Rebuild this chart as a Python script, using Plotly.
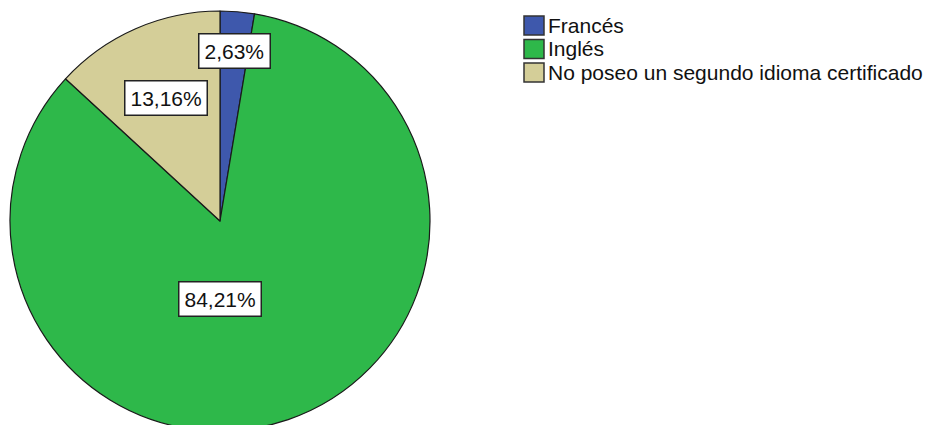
import math
import plotly.graph_objects as go

# ---- data ----
categories = ["Francés", "Inglés", "No poseo un segundo idioma certificado"]
percentages = [2.63, 84.21, 13.16]
colors = ["#3E58AC", "#2EB84A", "#D4CE98"]

# ---- layout constants ----
W, H = 937, 425
OFF = 8                                   # page body margin compensation
CX, CY, R = 220.0 - OFF, 221.0 - OFF, 210.0   # pie centre / radius in px
LABEL_RADIUS = [0.81, 0.37, 0.64]         # label distance as fraction of radius
FONT = "Liberation Sans, Arial, sans-serif"


def px_to_paper(x, y):
    return x / W, 1 - y / H


fig = go.Figure()
fig.add_trace(go.Pie(
    labels=categories,
    values=percentages,
    sort=False,
    direction="clockwise",
    rotation=0,
    marker=dict(colors=colors, line=dict(color="#1a1a1a", width=1.2)),
    textinfo="none",
    hoverinfo="label+percent",
    showlegend=False,
    domain=dict(x=[(CX - R) / W, (CX + R) / W], y=[1 - (CY + R) / H, 1 - (CY - R) / H]),
))

annotations = []
# slice labels, placed along each slice's mid angle
total = sum(percentages)
start = 0.0
for i, v in enumerate(percentages):
    mid = (start + v / 2) / total * 2 * math.pi
    start += v
    r = R * LABEL_RADIUS[i]
    lx = CX + r * math.sin(mid)
    ly = CY - r * math.cos(mid)
    if i == 1:
        lx = CX  # centred under the centre like the reference
        ly = CY + r
    x, y = px_to_paper(lx, ly)
    annotations.append(dict(
        x=x, y=y, xref="paper", yref="paper",
        text=f"{v:.2f}%".replace(".", ","),
        showarrow=False,
        font=dict(family=FONT, size=21, color="#111"),
        bgcolor="white", bordercolor="#222", borderwidth=1.5, borderpad=5,
        xanchor="center", yanchor="middle",
    ))

# manual legend
LEG_X0, LEG_Y0, LEG_DY, BOX_W, BOX_H = 524 - OFF, 16 - OFF, 23.5, 20, 19
shapes = []
for i, (lab, col) in enumerate(zip(categories, colors)):
    top = LEG_Y0 + i * LEG_DY
    x0, y0 = px_to_paper(LEG_X0, top)
    x1, y1 = px_to_paper(LEG_X0 + BOX_W, top + BOX_H)
    shapes.append(dict(type="rect", xref="paper", yref="paper",
                       x0=x0, x1=x1, y0=y1, y1=y0,
                       fillcolor=col, line=dict(color="#333", width=1.5)))
    tx, ty = px_to_paper(LEG_X0 + BOX_W + 2, top + BOX_H / 2)
    annotations.append(dict(
        x=tx, y=ty, xref="paper", yref="paper", text=lab, showarrow=False,
        font=dict(family=FONT, size=21, color="#111"),
        xanchor="left", yanchor="middle",
    ))

fig.update_layout(
    width=W, height=H,
    margin=dict(l=0, r=0, t=0, b=0),
    paper_bgcolor="white", plot_bgcolor="white",
    annotations=annotations, shapes=shapes,
)

fig.write_html("out.html")
